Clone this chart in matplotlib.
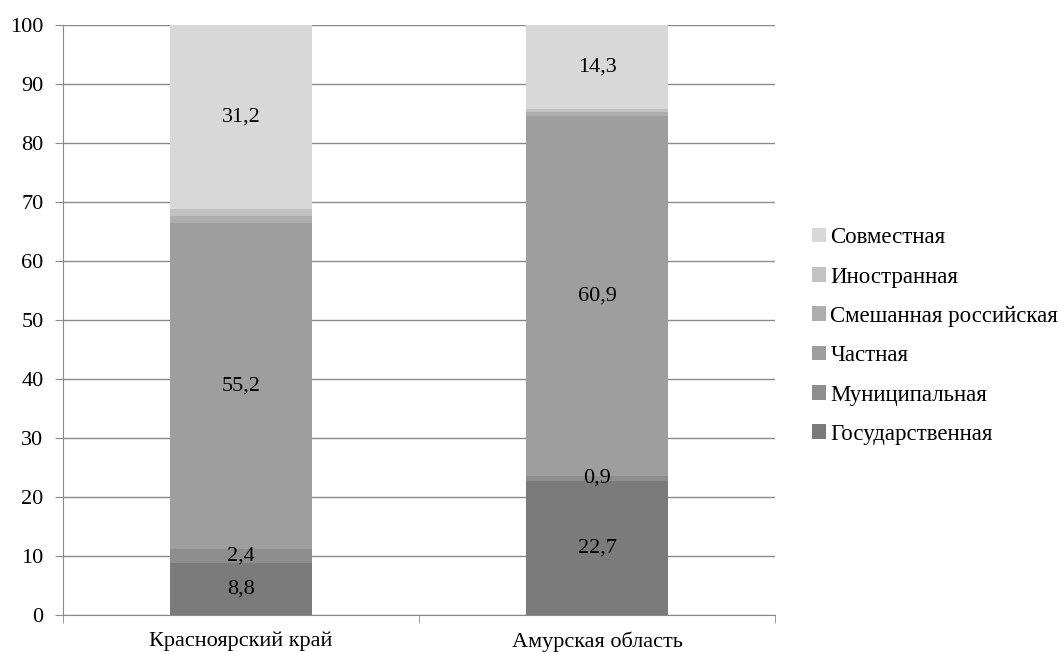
import matplotlib.pyplot as plt
import numpy as np

plt.rcParams['font.family'] = ['Liberation Serif', 'DejaVu Serif']

regions = ['Красноярский край', 'Амурская область']
series = ['Государственная', 'Муниципальная', 'Частная',
          'Смешанная российская', 'Иностранная', 'Совместная']
values = {
    'Государственная': [8.8, 22.7],
    'Муниципальная': [2.4, 0.9],
    'Частная': [55.2, 60.9],
    'Смешанная российская': [1.2, 0.7],
    'Иностранная': [1.2, 0.5],
    'Совместная': [31.2, 14.3],
}
labelled = ['Государственная', 'Муниципальная', 'Частная', 'Совместная']
colors = ['#7b7b7b', '#8e8e8e', '#9e9e9e', '#adadad', '#c2c2c2', '#d8d8d8']

fig = plt.figure(figsize=(10.61, 6.52), dpi=100)
ax = fig.add_axes((63 / 1061, 37 / 652, 712 / 1061, 590 / 652))

x = np.arange(len(regions))
bottom = np.zeros(len(regions))
handles = []
for name, c in zip(series, colors):
    v = np.array(values[name])
    h = ax.bar(x, v, 0.4, bottom=bottom, color=c, zorder=3, label=name)
    handles.append(h)
    if name in labelled:
        for xi, b, vi in zip(x, bottom, v):
            ax.text(xi, b + vi / 2, f'{vi:.1f}'.replace('.', ','),
                    ha='center', va='center', fontsize=16, zorder=4)
    bottom += v

ax.set_xlim(-0.5, 1.5)
ax.set_ylim(0, 100)
ax.set_yticks(range(0, 101, 10))
ax.yaxis.grid(True, color='#8a8a8a', linewidth=1, zorder=0)
ax.set_xticks(x)
ax.set_xticklabels(regions)
ax.set_xticks([-0.5, 0.5, 1.5], minor=True)
ax.tick_params(axis='x', which='major', length=0, labelsize=16, pad=12)
ax.tick_params(axis='x', which='minor', length=6, color='#8a8a8a', direction='out')
ax.tick_params(axis='y', length=6, color='#8a8a8a', labelsize=16, pad=8)
for s in ['top', 'right']:
    ax.spines[s].set_visible(False)
for s in ['left', 'bottom']:
    ax.spines[s].set_color('#8a8a8a')

leg = fig.legend(handles[::-1], series[::-1], loc='center left',
                 bbox_to_anchor=(803 / 1061, 1 - 336 / 652), frameon=False,
                 fontsize=16.5, handlelength=0.6, handleheight=0.6,
                 handletextpad=0.2, labelspacing=0.8, borderaxespad=0)

fig.savefig('out.png', dpi=100)
